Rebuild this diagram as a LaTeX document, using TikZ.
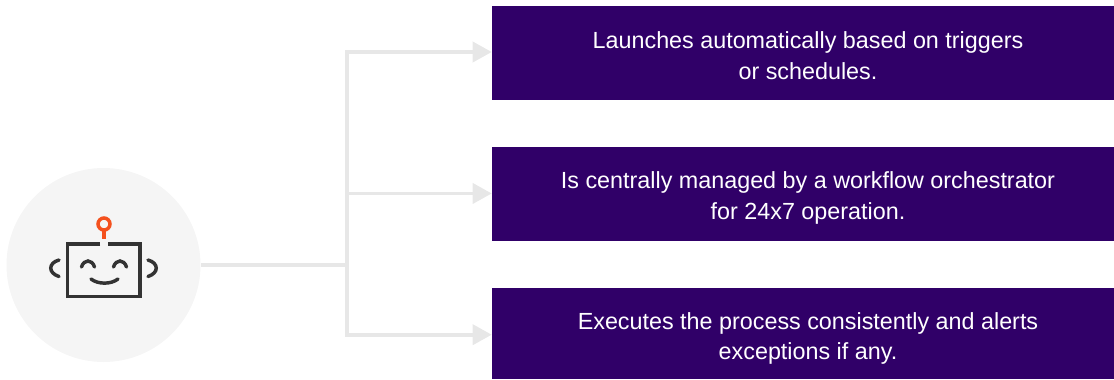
\documentclass[tikz,border=0pt]{standalone}
\usepackage{fontspec}
\setmainfont{Liberation Sans}
\usetikzlibrary{arrows.meta}
\definecolor{boxpurple}{HTML}{300068}
\definecolor{linkgray}{HTML}{E7E7E7}
\definecolor{hubgray}{HTML}{F5F5F5}
\definecolor{botdark}{HTML}{333333}
\definecolor{botred}{HTML}{F4511E}
\tikzset{
  taskbox/.style={fill=boxpurple,minimum width=622*0.75pt,minimum height=#1*0.75pt,inner sep=0pt},
  tasktext/.style={text=white,align=center,font=\fontsize{17.5}{23}\selectfont,inner sep=0pt},
  link/.style={draw=linkgray,line width=2.7pt},
  linkarrow/.style={link,-{Triangle[length=14.25pt,width=15pt]}},
  botline/.style={draw=botdark,line width=2.6pt}
}

\begin{document}
\begin{tikzpicture}[x=0.75pt,y=-0.75pt]
\useasboundingbox (0,0) rectangle (1114,379);

\node[circle,fill=hubgray,minimum size=194*0.75pt,inner sep=0pt] (hub) at (103.5,265) {};

\node[taskbox=94] (box1) at (803,53) {};
\node[taskbox=94] (box2) at (803,194) {};
\node[taskbox=91] (box3) at (803,333.5) {};

\node[tasktext] (text1) at (808,55.5) {Launches automatically based on triggers\\or schedules.};
\node[tasktext] (text2) at (808,198) {Is centrally managed by a workflow orchestrator\\for 24x7 operation.};
\node[tasktext] (text3) at (808,338.5) {Executes the process consistently and alerts\\exceptions if any.};

% connectors
\coordinate (trunk) at (347,265);
\draw[link] (hub) -- (trunk);
\draw[linkarrow] (trunk) |- ([yshift=0.75pt]box1.west);
\draw[linkarrow] (trunk) |- ([yshift=0.4pt]box2.west);
\draw[linkarrow] (trunk) |- ([yshift=-0.9pt]box3.west);

% robot
\draw[botline,miter limit=10] (100,244) -- (67.5,244) -- (67.5,296.5) -- (140,296.5) -- (140,244) -- (107.5,244);
\draw[botline,line cap=round] (59,260) .. controls (48,263) and (48,273) .. (59,276.5);
\draw[botline,line cap=round] (148,260) .. controls (159,263) and (159,273) .. (148,276.5);
\draw[botline,line cap=round] (81.5,267) .. controls (84,259) and (92,259) .. (94.5,267);
\draw[botline,line cap=round] (113.5,267) .. controls (116,259) and (124,259) .. (126.5,267);
\draw[botline,line cap=round] (91,279) .. controls (98,284.5) and (111,284.5) .. (118,279);
\draw[botred,line width=2.6pt] (104,224) circle (6);
\draw[botred,line width=3pt] (104,230) -- (104,239);

\end{tikzpicture}
\end{document}
